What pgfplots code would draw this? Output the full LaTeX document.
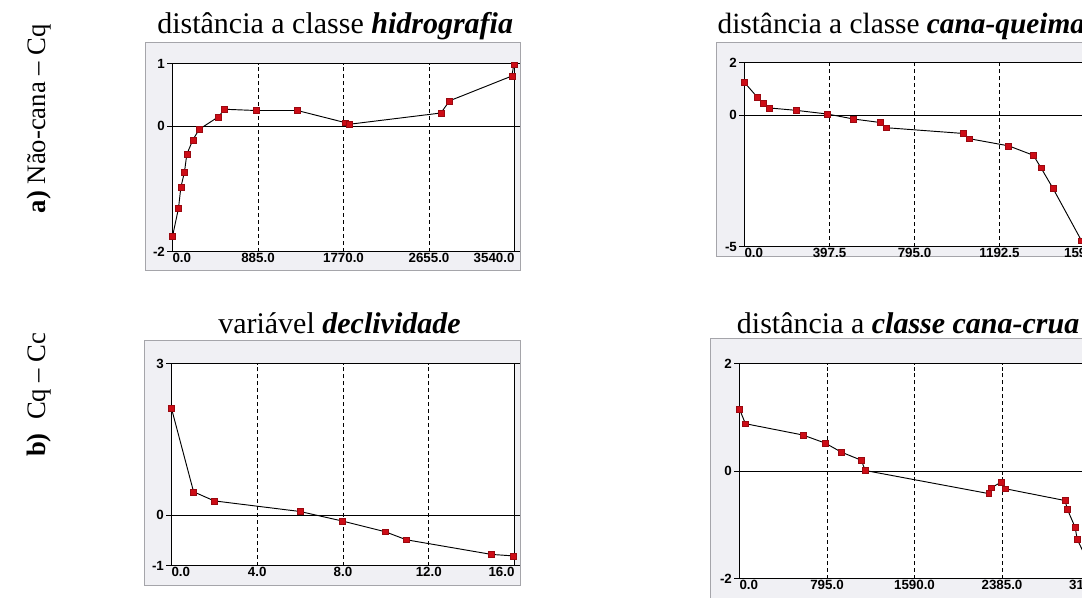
\documentclass[border=0pt]{standalone}
\usepackage{fontspec}
\setmainfont{Liberation Serif}
\newfontfamily\tickfont{Liberation Sans}
\usepackage{pgfplots}
\pgfplotsset{compat=1.18}

\definecolor{framefill}{RGB}{240,240,244}
\definecolor{frameline}{RGB}{165,165,170}
\definecolor{mkred}{RGB}{205,12,22}

\pgfplotsset{
  panel/.style={
    scale only axis, anchor=south west,
    axis line style={black, line width=0.8pt},
    axis background/.style={fill=white},
    xmin=0,
    x grid style={black, dash pattern=on 3pt off 2.2pt, line width=0.6pt},
    y grid style={black, solid, line width=0.6pt},
    extra x tick style={grid=major, tick style={draw=none}},
    extra y tick style={grid=major},
    xtick style={draw=none},
    ytick style={black, line width=0.6pt},
    xtick align=inside, ytick align=outside,
    major tick length=4pt,
    tick label style={font=\tickfont\bfseries\fontsize{10}{11}\selectfont},
    xticklabel style={inner sep=0pt, anchor=north, yshift=-1.2pt},
    yticklabel style={inner sep=0pt, anchor=east, xshift=-1.5pt},
    clip=true,
  },
  ser/.style={black, line width=0.7pt, mark=square*, mark size=2.2pt,
    mark options={fill=mkred, draw=mkred!75!black, line width=0.3pt, solid}},
}

\begin{document}
\begin{tikzpicture}
\useasboundingbox (0pt,0pt) rectangle (811.5pt,-447.75pt);
\clip (0pt,0pt) rectangle (811.5pt,-447.75pt);

% row labels
\node[rotate=90, anchor=base, font=\fontsize{20}{24}\selectfont] at (33.75pt,-89pt) {\textbf{a)} Não-cana – Cq};
\node[rotate=90, anchor=base, font=\fontsize{20}{24}\selectfont] at (33.75pt,-296pt) {\textbf{b)}\ \ Cq – Cc};

% titles
\node[anchor=base west, inner sep=0pt, font=\fontsize{22.5}{26}\selectfont] at (117.75pt,-24.75pt) {distância a classe \textbf{\textit{hidrografia}}};
\node[anchor=base west, inner sep=0pt, font=\fontsize{22}{26}\selectfont] at (538pt,-24.75pt) {distância a classe \textbf{\textit{cana-queimada}}};
\node[anchor=base west, inner sep=0pt, font=\fontsize{22.5}{26}\selectfont] at (163.5pt,-249.75pt) {variável \textbf{\textit{declividade}}};
\node[anchor=base west, inner sep=0pt, font=\fontsize{22.5}{26}\selectfont] at (552.5pt,-250pt) {distância a \textbf{\textit{classe cana-crua}}};

% gray frames
\filldraw[fill=framefill, draw=frameline, line width=0.75pt] (108.75pt,-31.5pt) rectangle (390pt,-202.5pt);
\filldraw[fill=framefill, draw=frameline, line width=0.75pt] (537pt,-31.5pt) rectangle (822pt,-192pt);
\filldraw[fill=framefill, draw=frameline, line width=0.75pt] (108pt,-255pt) rectangle (390pt,-439.3pt);
\filldraw[fill=framefill, draw=frameline, line width=0.75pt] (533pt,-253.5pt) rectangle (822pt,-460pt);

% a) hidrografia
\begin{axis}[panel, at={(129.375pt,-188.625pt)}, width=256.5pt, height=141pt,
  xmax=3540, ymin=-2, ymax=1,
  xtick={0,3540}, xticklabels={\rlap{0.0},\llap{3540.0}},
  extra x ticks={885,1770,2655}, extra x tick labels={885.0,1770.0,2655.0},
  ytick={-2,1}, yticklabels={-2,1},
  extra y ticks={0}, extra y tick labels={0}]
\addplot[ser] coordinates {
(0,-1.76) (62,-1.31) (86,-0.98) (124,-0.73) (148,-0.45) (210,-0.22) (276,-0.05)
(476,0.15) (538,0.27) (865,0.25) (1293,0.25) (1792,0.055) (1827,0.03)
(2778,0.21) (2868,0.405) (3512,0.80) (3533,0.98)};
\end{axis}

% a) cana-queimada
\begin{axis}[panel, at={(558.375pt,-184.875pt)}, width=255pt, height=138pt,
  xmax=1590, ymin=-5, ymax=2,
  xtick={0,1590}, xticklabels={\rlap{0.0},1590.0},
  extra x ticks={397.5,795,1192.5}, extra x tick labels={397.5,795.0,1192.5},
  ytick={-5,2}, yticklabels={-5,2},
  extra y ticks={0}, extra y tick labels={0}]
\addplot[ser] coordinates {
(0,1.24) (61,0.67) (89,0.46) (117,0.27) (242,0.18) (388,0.04) (510,-0.15)
(633,-0.28) (662,-0.48) (1024,-0.70) (1052,-0.90) (1235,-1.17) (1351,-1.53)
(1386,-2.0) (1442,-2.78) (1576,-4.78)};
\end{axis}

% b) declividade
\begin{axis}[panel, at={(128.625pt,-424.125pt)}, width=257.25pt, height=151.5pt,
  xmax=16, ymin=-1, ymax=3,
  xtick={0,16}, xticklabels={\rlap{0.0},\llap{16.0}},
  extra x ticks={4,8,12}, extra x tick labels={4.0,8.0,12.0},
  ytick={-1,3}, yticklabels={-1,3},
  extra y ticks={0}, extra y tick labels={0}]
\addplot[ser] coordinates {
(0,2.11) (1.03,0.46) (1.99,0.28) (5.99,0.07) (7.98,-0.12) (9.96,-0.33)
(10.95,-0.49) (14.92,-0.78) (15.95,-0.81)};
\end{axis}

% b) cana-crua
\begin{axis}[panel, at={(554.625pt,-433.875pt)}, width=262.5pt, height=161.25pt,
  xmax=3180, ymin=-2, ymax=2,
  xtick={0,3180}, xticklabels={\rlap{0.0},3180.0},
  extra x ticks={795,1590,2385}, extra x tick labels={795.0,1590.0,2385.0},
  ytick={-2,2}, yticklabels={-2,2},
  extra y ticks={0}, extra y tick labels={0}]
\addplot[ser] coordinates {
(0,1.15) (54,0.88) (575,0.67) (778,0.52) (926,0.35) (1108,0.20) (1141,0.01)
(2264,-0.42) (2288,-0.31) (2376,-0.21) (2415,-0.33) (2959,-0.55) (2978,-0.71)
(3050,-1.05) (3068,-1.27) (3150,-1.62)};
\end{axis}
\end{tikzpicture}
\end{document}
